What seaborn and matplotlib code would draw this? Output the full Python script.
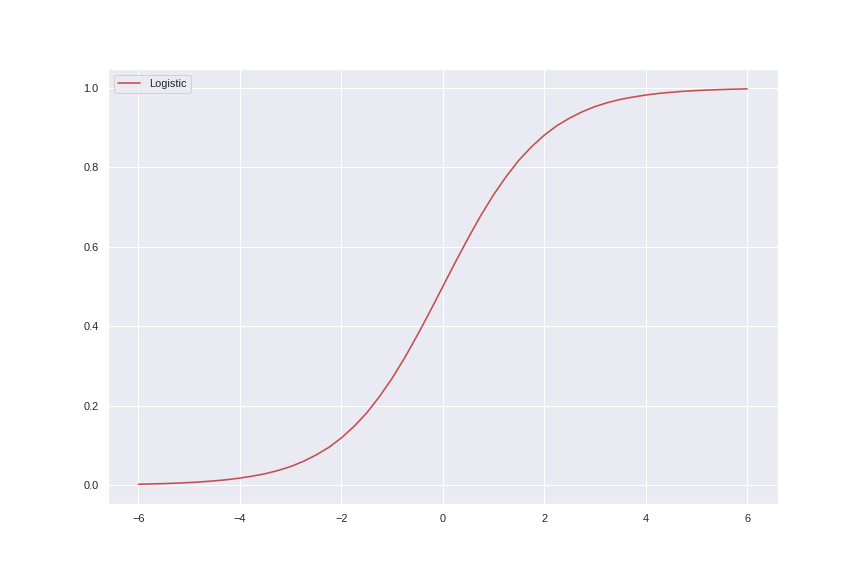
import matplotlib
matplotlib.use("Agg")
import matplotlib.pyplot as plt
import seaborn as sns
import pandas as pd

x_values = [-6.00, -5.75, -5.50, -5.25, -5.00, -4.75, -4.50, -4.25, -4.00, -3.75,
            -3.50, -3.25, -3.00, -2.75, -2.50, -2.25, -2.00, -1.75, -1.50, -1.25,
            -1.00, -0.75, -0.50, -0.25, 0.00, 0.25, 0.50, 0.75, 1.00, 1.25,
            1.50, 1.75, 2.00, 2.25, 2.50, 2.75, 3.00, 3.25, 3.50, 3.75,
            4.00, 4.25, 4.50, 4.75, 5.00, 5.25, 5.50, 5.75, 6.00]
y_values = [0.0025, 0.0032, 0.0041, 0.0052, 0.0067, 0.0086, 0.011, 0.014, 0.018, 0.023,
            0.029, 0.037, 0.047, 0.060, 0.076, 0.095, 0.119, 0.148, 0.182, 0.223,
            0.269, 0.321, 0.378, 0.438, 0.500, 0.562, 0.622, 0.679, 0.731, 0.777,
            0.818, 0.852, 0.881, 0.905, 0.924, 0.940, 0.953, 0.963, 0.971, 0.977,
            0.982, 0.986, 0.989, 0.9914, 0.9933, 0.9948, 0.9959, 0.9968, 0.9975]
series_label = "Logistic"

sns.set_theme(style="darkgrid", context="notebook")
sns.set_color_codes()
plt.rcParams['font.family'] = ['Liberation Sans', 'DejaVu Sans']

df = pd.DataFrame({"x": x_values, "y": y_values})

fig = plt.figure(figsize=(12, 8), dpi=72)
ax = fig.add_axes([0.125, 0.125, 0.775, 0.755])
sns.lineplot(data=df, x="x", y="y", color="r", label=series_label, ax=ax, linewidth=1.6)
ax.set_xlabel("")
ax.set_ylabel("")
ax.legend(loc="upper left")
fig.savefig("out.png", dpi=72)
